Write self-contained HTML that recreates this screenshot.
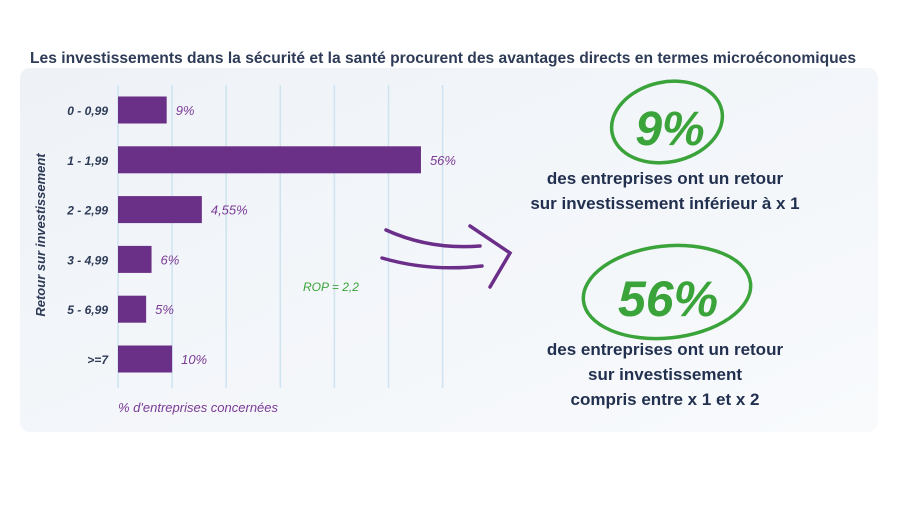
<!DOCTYPE html>
<html><head><meta charset="utf-8"><style>
body{margin:0;background:#fff;width:900px;height:500px;overflow:hidden;font-family:"Liberation Sans",sans-serif}
</style></head><body>
<svg width="900" height="500" viewBox="0 0 900 500">
<defs>
<linearGradient id="bg" x1="0" y1="0" x2="1" y2="1">
<stop offset="0" stop-color="#eef2f7"/><stop offset="1" stop-color="#f8fafc"/>
</linearGradient>
</defs>
<rect x="20" y="68" width="858" height="364" rx="10" fill="url(#bg)"/>
<text x="30" y="63" font-size="16" font-weight="bold" fill="#2e3b57" textLength="826" lengthAdjust="spacingAndGlyphs">Les investissements dans la sécurité et la santé procurent des avantages directs en termes microéconomiques</text>
<g id="grid"></g>
<g id="bars"></g>
<text x="45" y="235" font-size="13" font-style="italic" font-weight="bold" fill="#2e3b57" transform="rotate(-90 45 235)" text-anchor="middle">Retour sur investissement</text>
<text x="118" y="412" font-size="13" font-style="italic" fill="#7b3a96">% d'entreprises concernées</text>
<text x="303" y="291" font-size="12" font-style="italic" fill="#3aa33a">ROP = 2,2</text>
<g fill="none" stroke="#6b2f8a" stroke-width="3.5" stroke-linecap="round">
<path d="M386 230 Q430 250 480 246"/>
<path d="M382 258 Q430 272 482 266"/>
<path d="M470 226 L510 253 L490 287"/>
</g>
<ellipse cx="667" cy="122" rx="56" ry="40" fill="none" stroke="#3aa33a" stroke-width="3.5" transform="rotate(-12 667 122)"/>
<text x="670" y="145" font-size="48" font-weight="bold" font-style="italic" fill="#3aa33a" text-anchor="middle">9%</text>
<text x="665" y="184" font-size="17" font-weight="bold" fill="#22304f" text-anchor="middle">des entreprises ont un retour</text>
<text x="665" y="209" font-size="17" font-weight="bold" fill="#22304f" text-anchor="middle">sur investissement inférieur à x 1</text>
<ellipse cx="667" cy="292" rx="84" ry="46" fill="none" stroke="#3aa33a" stroke-width="3.5" transform="rotate(-6 667 292)"/>
<text x="668" y="316" font-size="50" font-weight="bold" font-style="italic" fill="#3aa33a" text-anchor="middle">56%</text>
<text x="665" y="355" font-size="17" font-weight="bold" fill="#22304f" text-anchor="middle">des entreprises ont un retour</text>
<text x="665" y="380" font-size="17" font-weight="bold" fill="#22304f" text-anchor="middle">sur investissement</text>
<text x="665" y="405" font-size="17" font-weight="bold" fill="#22304f" text-anchor="middle">compris entre x 1 et x 2</text>
</svg>
<script>
const categories = ["0 - 0,99","1 - 1,99","2 - 2,99","3 - 4,99","5 - 6,99",">=7"];
const values = [9, 56, 15.5, 6.2, 5.2, 10];
const valueLabels = ["9%","56%","4,55%","6%","5%","10%"];
const gridTicks = [0,10,20,30,40,50,60];
const NS="http://www.w3.org/2000/svg";
const x0=118, pxPer=5.41, yTop=110, rowH=49.8, barH=27;
const xs=v=>x0+v*pxPer;
const ys=i=>yTop+i*rowH;
const grid=document.getElementById('grid'), bars=document.getElementById('bars');
gridTicks.forEach(t=>{
  const l=document.createElementNS(NS,'line');
  l.setAttribute('x1',xs(t));l.setAttribute('x2',xs(t));
  l.setAttribute('y1',85);l.setAttribute('y2',388);
  l.setAttribute('stroke','#cfe3f1');l.setAttribute('stroke-width','1.5');
  
  
  grid.appendChild(l);
});
categories.forEach((c,i)=>{
  const y=ys(i);
  const r=document.createElementNS(NS,'rect');
  r.setAttribute('x',x0);r.setAttribute('y',y-barH/2);
  r.setAttribute('width',values[i]*pxPer);r.setAttribute('height',barH);
  r.setAttribute('fill','#6a2f86');
  
  
  bars.appendChild(r);
  const t=document.createElementNS(NS,'text');
  t.setAttribute('x',108);t.setAttribute('y',y+5);
  t.setAttribute('text-anchor','end');t.setAttribute('font-size','12');
  t.setAttribute('font-style','italic');t.setAttribute('font-weight','bold');
  t.setAttribute('fill','#2e3b57');t.textContent=c;
  
  
  bars.appendChild(t);
  const v=document.createElementNS(NS,'text');
  v.setAttribute('x',xs(values[i])+9);v.setAttribute('y',y+5);
  v.setAttribute('font-size','13');v.setAttribute('font-style','italic');
  v.setAttribute('fill','#7b3a96');v.textContent=valueLabels[i];
  
  
  bars.appendChild(v);
});
</script>
</body></html>
